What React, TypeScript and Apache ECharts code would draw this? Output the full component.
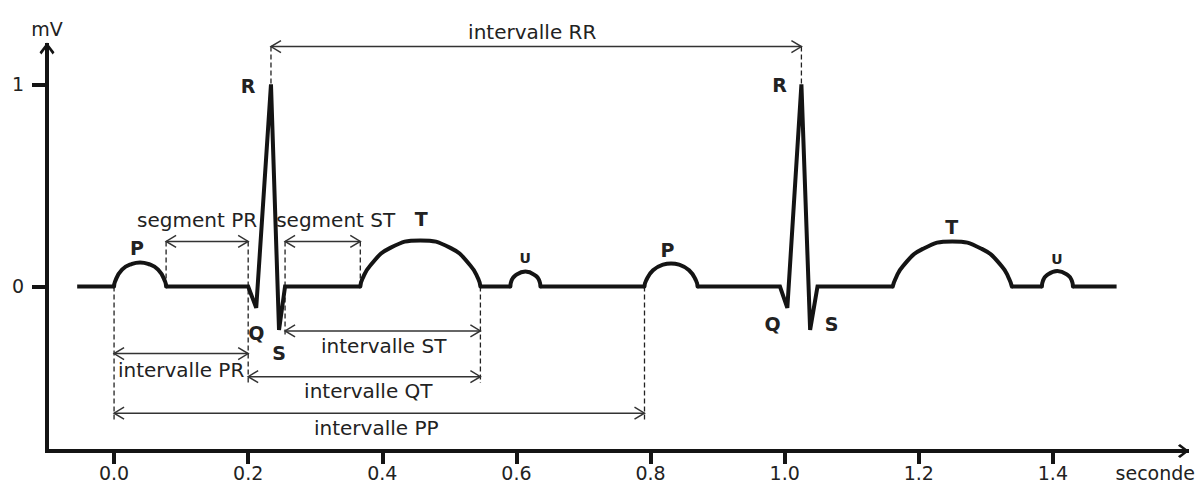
import React, { useEffect, useRef } from 'react';
import * as echarts from 'echarts';

const FONT = '"DejaVu Sans", Verdana, sans-serif';
const INK = '#141414';
const TXT = '#222222';
const DIM = '#333333';

// ---- axes ----
const xTicks = [0, 0.2, 0.4, 0.6, 0.8, 1.0, 1.2, 1.4];
const yTicks = [0, 1];
const xName = 'seconde';
const yName = 'mV';

// ---- ECG trace (seconds, mV); null = gap where a rounded wave is drawn ----
const traceX = [-0.055, 0.0, null, 0.0776, 0.2, 0.212, 0.234, 0.246, 0.255, 0.3672, null,
  0.5463, 0.591, null, 0.6358, 0.791, null, 0.8701, 0.993, 1.004, 1.025, 1.038, 1.049, 1.1612, null,
  1.3388, 1.3836, null, 1.4299, 1.495];
const traceY = [0, 0, null, 0, 0, -0.106, 1.0, -0.215, 0, 0, null,
  0, 0, null, 0, 0, null, 0, 0, -0.106, 1.0, -0.215, 0, 0, null,
  0, 0, null, 0, 0];

// ---- rounded waves ----
const p1X = [0, 0.0015, 0.0119, 0.0269, 0.0388, 0.0507, 0.0657, 0.0761, 0.0776];
const p1Y = [0, 0.025, 0.083, 0.112, 0.119, 0.112, 0.083, 0.025, 0];
const t1X = [0.3672, 0.3701, 0.3821, 0.4119, 0.4567, 0.5015, 0.5313, 0.5433, 0.5463];
const t1Y = [0, 0.036, 0.104, 0.191, 0.228, 0.191, 0.104, 0.036, 0];
const u1X = [0.591, 0.5925, 0.5976, 0.6134, 0.6293, 0.6343, 0.6358];
const u1Y = [0, 0.027, 0.052, 0.074, 0.052, 0.027, 0];
const p2X = [0.791, 0.7933, 0.8037, 0.8187, 0.8306, 0.8425, 0.8575, 0.8679, 0.8701];
const p2Y = [0, 0.029, 0.08, 0.108, 0.114, 0.108, 0.08, 0.029, 0];
const t2X = [1.1612, 1.1649, 1.1761, 1.206, 1.25, 1.294, 1.3239, 1.3351, 1.3388];
const t2Y = [0, 0.035, 0.1, 0.186, 0.223, 0.186, 0.1, 0.035, 0];
const u2X = [1.3836, 1.3851, 1.3903, 1.4067, 1.4231, 1.4284, 1.4299];
const u2Y = [0, 0.027, 0.054, 0.077, 0.054, 0.027, 0];

// ---- interval / segment dimensions ----
const dimNames = ['intervalle RR', 'segment PR', 'segment ST', 'intervalle ST', 'intervalle PR', 'intervalle QT', 'intervalle PP'];
const dimFrom = [0.234, 0.0776, 0.255, 0.255, 0, 0.2, 0];
const dimTo = [1.025, 0.2, 0.3672, 0.5463, 0.2, 0.5463, 0.791];
const dimLevel = [1.187, 0.223, 0.223, -0.22, -0.332, -0.446, -0.627];

// ---- dashed guide lines ----
const guideX = [0.234, 1.025, 0.0776, 0.2, 0.255, 0.3672, 0.5463, 0, 0.791];
const guideFrom = [1.187, 1.187, 0.223, 0.223, 0.223, 0.223, 0, 0, 0];
const guideTo = [1.0, 1.0, 0, -0.478, -0.25, 0, -0.478, -0.661, -0.671];

// ---- wave letters ----
const peakNames = ['P', 'R', 'Q', 'S', 'T', 'U', 'P', 'R', 'Q', 'S', 'T', 'U'];
const peakX = [0.0343, 0.2, 0.212, 0.246, 0.458, 0.613, 0.8254, 0.9925, 0.982, 1.0701, 1.2493, 1.406];
const peakY = [0.191, 0.993, -0.23, -0.329, 0.334, 0.141, 0.181, 0.998, -0.186, -0.186, 0.295, 0.136];

// ---- layout of dimension labels (pixels relative to the dimension line) ----
const dimLabelDx = [-4, -10, 13, 1, 0, 4, -3];
const dimLabelDy = [-15, -21, -21, 15, 16, 14, 15];

const ARROW = 'path://M10,0 L20,13 L17.5,16 L10,5.5 L2.5,16 L0,13 Z';

const zip = (xs: (number | null)[], ys: (number | null)[]) => xs.map((x, i) => [x, ys[i]]);

function buildOption(): any {
  const waves = [[p1X, p1Y], [t1X, t1Y], [u1X, u1Y], [p2X, p2Y], [t2X, t2Y], [u2X, u2Y]];
  const waveSeries = waves.map(([xs, ys]) => ({
    type: 'line',
    data: zip(xs, ys),
    smooth: 0.5,
    symbol: 'none',
    showSymbol: false,
    silent: true,
    clip: false,
    z: 5,
    lineStyle: { color: INK, width: 4, cap: 'round' },
  }));

  return {
    animation: false,
    backgroundColor: '#ffffff',
    textStyle: { fontFamily: FONT },
    grid: { left: 47, right: 13, top: 45, bottom: 31, containLabel: false, outerBoundsMode: 'none' },
    xAxis: {
      type: 'value',
      min: -0.1,
      max: 1.6,
      splitLine: { show: false },
      axisLine: {
        show: true,
        onZero: false,
        symbol: ['none', ARROW],
        symbolSize: [14, 13],
        symbolOffset: [0, -3.5],
        lineStyle: { color: INK, width: 4, cap: 'square' },
      },
      axisTick: { show: true, customValues: xTicks, length: 13, lineStyle: { color: INK, width: 4 } },
      axisLabel: {
        customValues: xTicks,
        formatter: (v: number) => v.toFixed(1),
        margin: 12,
        color: TXT,
        fontSize: 19,
        fontFamily: FONT,
      },
      name: xName,
      nameLocation: 'end',
      nameGap: 8,
      nameTextStyle: { color: TXT, fontSize: 19, fontFamily: FONT, align: 'right', verticalAlign: 'top', padding: [12, 0, 0, 0] },
    },
    yAxis: {
      type: 'value',
      min: -0.814,
      max: 1.195,
      splitLine: { show: false },
      axisLine: {
        show: true,
        onZero: false,
        symbol: ['none', ARROW],
        symbolSize: [15, 13],
        symbolOffset: [0, -3.5],
        lineStyle: { color: INK, width: 4, cap: 'square' },
      },
      axisTick: { show: true, customValues: yTicks, length: 15, lineStyle: { color: INK, width: 4 } },
      axisLabel: {
        customValues: yTicks,
        formatter: (v: number) => String(Math.round(v)),
        margin: 23,
        color: TXT,
        fontSize: 19,
        fontFamily: FONT,
        verticalAlign: 'middle',
        padding: [0, 0, 13, 0],
      },
      name: yName,
      nameLocation: 'end',
      nameGap: 7,
      nameTextStyle: { color: TXT, fontSize: 19, fontFamily: FONT, align: 'center', verticalAlign: 'bottom' },
    },
    series: [
      {
        type: 'custom',
        name: 'guides',
        coordinateSystem: 'cartesian2d',
        clip: false,
        silent: true,
        z: 2,
        data: guideX.map((x, i) => [x, guideFrom[i], guideTo[i]]),
        encode: { x: 0, y: [1, 2] },
        renderItem: (params: any, api: any) => {
          const a = api.coord([api.value(0), api.value(1)]);
          const b = api.coord([api.value(0), api.value(2)]);
          return {
            type: 'line',
            shape: { x1: a[0], y1: a[1], x2: b[0], y2: b[1] },
            style: { stroke: '#222', lineWidth: 1.3, lineDash: [5, 3], fill: 'none' },
          };
        },
      },
      {
        type: 'custom',
        name: 'dimensions',
        coordinateSystem: 'cartesian2d',
        clip: false,
        silent: true,
        z: 3,
        data: dimNames.map((_, i) => [dimFrom[i], dimLevel[i], dimTo[i]]),
        encode: { x: [0, 2], y: 1 },
        renderItem: (params: any, api: any) => {
          const i = params.dataIndex;
          const a = api.coord([api.value(0), api.value(1)]);
          const b = api.coord([api.value(2), api.value(1)]);
          const ah = 10;
          const aw = 6;
          const st = { stroke: DIM, lineWidth: 1.5, fill: 'none' };
          return {
            type: 'group',
            children: [
              { type: 'line', shape: { x1: a[0], y1: a[1], x2: b[0], y2: b[1] }, style: st },
              { type: 'polyline', shape: { points: [[a[0] + ah, a[1] - aw], [a[0], a[1]], [a[0] + ah, a[1] + aw]] }, style: st },
              { type: 'polyline', shape: { points: [[b[0] - ah, b[1] - aw], [b[0], b[1]], [b[0] - ah, b[1] + aw]] }, style: st },
              {
                type: 'text',
                x: (a[0] + b[0]) / 2 + dimLabelDx[i],
                y: a[1] + dimLabelDy[i],
                style: { text: dimNames[i], fill: TXT, fontSize: 20, fontFamily: FONT, align: 'center', verticalAlign: 'middle' },
              },
            ],
          };
        },
      },
      {
        type: 'line',
        name: 'ECG',
        data: zip(traceX, traceY),
        connectNulls: false,
        smooth: false,
        symbol: 'none',
        showSymbol: false,
        silent: true,
        clip: false,
        z: 5,
        lineStyle: { color: INK, width: 4, join: 'miter', miterLimit: 4 },
      },
      ...waveSeries,
      {
        type: 'custom',
        name: 'letters',
        coordinateSystem: 'cartesian2d',
        clip: false,
        silent: true,
        z: 6,
        data: peakX.map((x, i) => [x, peakY[i]]),
        encode: { x: 0, y: 1 },
        renderItem: (params: any, api: any) => {
          const i = params.dataIndex;
          const p = api.coord([api.value(0), api.value(1)]);
          const small = peakNames[i] === 'U';
          return {
            type: 'text',
            x: p[0],
            y: p[1],
            style: {
              text: peakNames[i],
              fill: TXT,
              fontSize: small ? 14 : 19,
              fontWeight: 'bold',
              fontFamily: FONT,
              align: 'center',
              verticalAlign: 'middle',
            },
          };
        },
      },
    ],
  };
}

export default function App() {
  const ref = useRef<HTMLDivElement>(null);
  useEffect(() => {
    document.body.style.margin = '0';
    const chart = echarts.init(ref.current as HTMLDivElement, null, { renderer: 'svg' });
    chart.setOption(buildOption());
    return () => chart.dispose();
  }, []);
  return <div ref={ref} style={{ width: 1200, height: 482 }} />;
}
